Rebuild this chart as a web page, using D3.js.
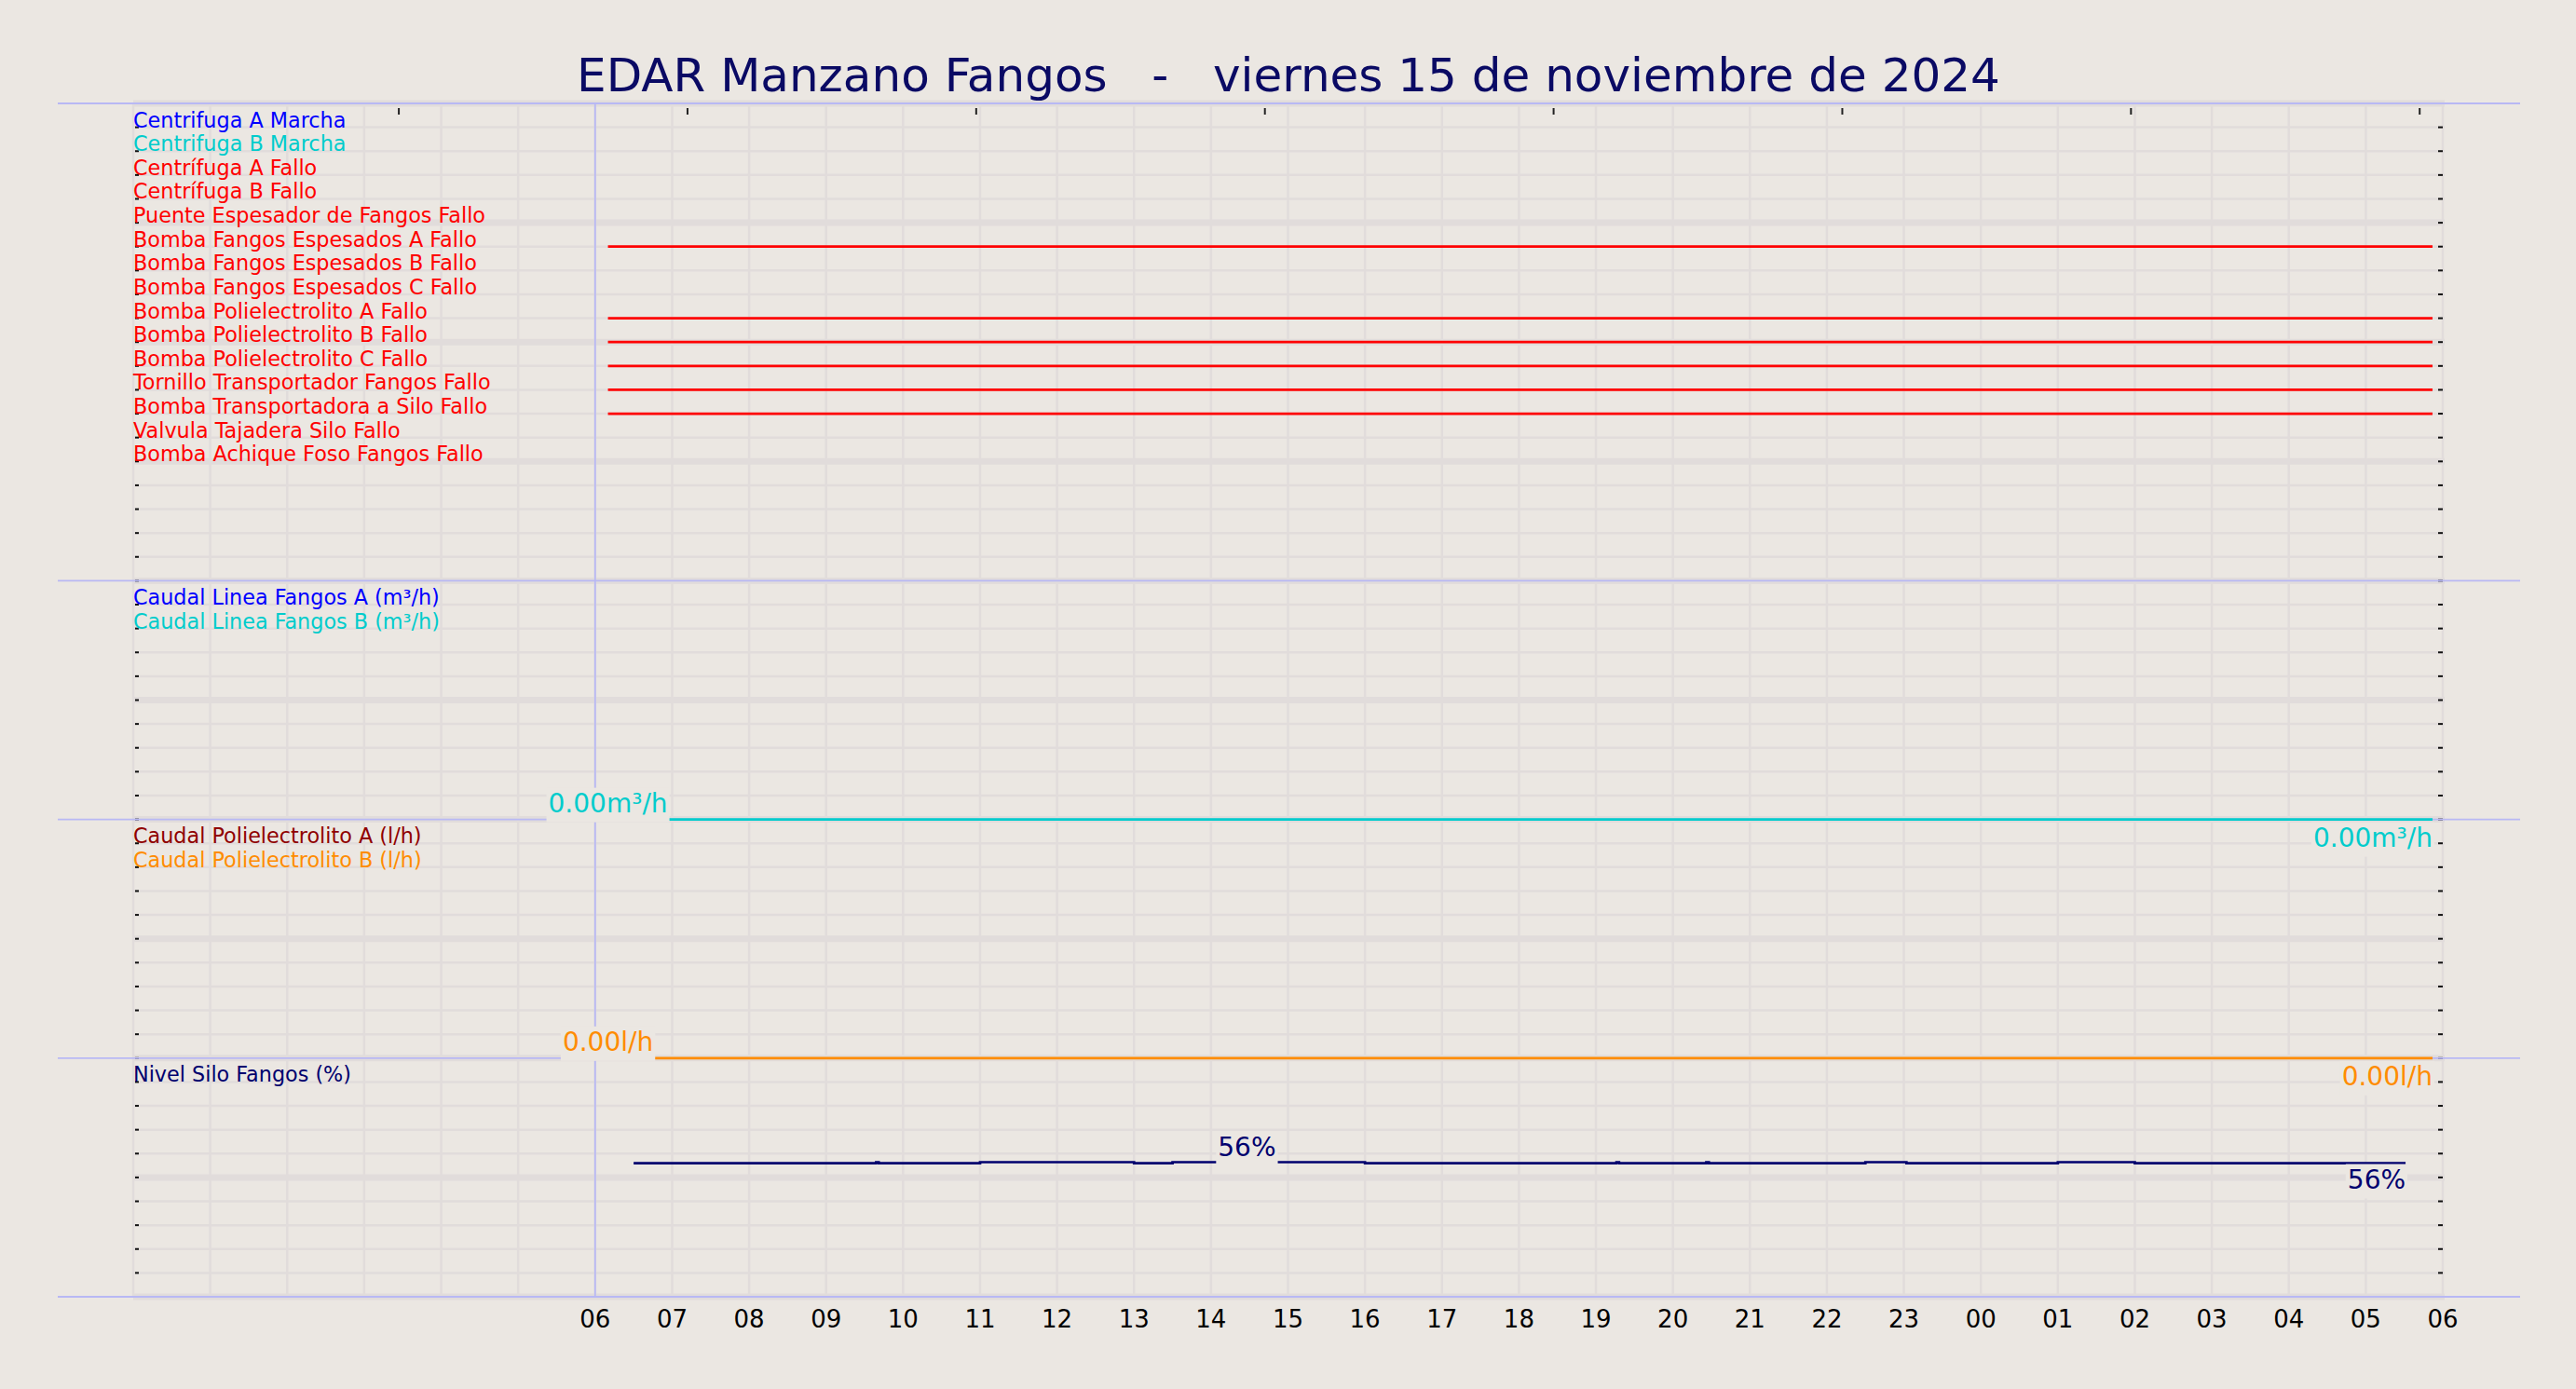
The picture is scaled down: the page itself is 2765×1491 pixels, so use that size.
<!DOCTYPE html>
<html><head><meta charset="utf-8">
<script src="https://cdn.jsdelivr.net/npm/d3@7"></script>
<style>
html,body{margin:0;padding:0;background:#ebe7e2;}
svg{display:block;font-family:"DejaVu Sans",sans-serif;}
</style>
</head><body>
<svg id="chart" width="2765" height="1491"></svg>
<script>
// ---------------- DATA ----------------
const TITLE = "EDAR Manzano Fangos   -   viernes 15 de noviembre de 2024";
const domainStart = "2024-11-15T00:00";
const domainEnd = "2024-11-16T06:00";
const markerTime = "2024-11-15T06:00";

const xTickTimes = ["2024-11-15T06:00","2024-11-15T07:00","2024-11-15T08:00","2024-11-15T09:00","2024-11-15T10:00",
  "2024-11-15T11:00","2024-11-15T12:00","2024-11-15T13:00","2024-11-15T14:00","2024-11-15T15:00","2024-11-15T16:00",
  "2024-11-15T17:00","2024-11-15T18:00","2024-11-15T19:00","2024-11-15T20:00","2024-11-15T21:00","2024-11-15T22:00",
  "2024-11-15T23:00","2024-11-16T00:00","2024-11-16T01:00","2024-11-16T02:00","2024-11-16T03:00","2024-11-16T04:00",
  "2024-11-16T05:00","2024-11-16T06:00"];
const xTickLabels = ["06","07","08","09","10","11","12","13","14","15","16","17","18","19","20","21","22","23","00","01","02","03","04","05","06"];
const topTickTimes = ["2024-11-15T03:27","2024-11-15T07:12","2024-11-15T10:57","2024-11-15T14:42",
  "2024-11-15T18:27","2024-11-15T22:12","2024-11-16T01:57","2024-11-16T05:42"];

const digitalNames = ["Centrifuga A Marcha","Centrifuga B Marcha","Centrífuga A Fallo","Centrífuga B Fallo",
  "Puente Espesador de Fangos Fallo","Bomba Fangos Espesados A Fallo","Bomba Fangos Espesados B Fallo",
  "Bomba Fangos Espesados C Fallo","Bomba Polielectrolito A Fallo","Bomba Polielectrolito B Fallo",
  "Bomba Polielectrolito C Fallo","Tornillo Transportador Fangos Fallo","Bomba Transportadora a Silo Fallo",
  "Valvula Tajadera Silo Fallo","Bomba Achique Foso Fangos Fallo"];
const digitalColors = ["#0000ff","#00cccc","#ff0000","#ff0000","#ff0000","#ff0000","#ff0000","#ff0000",
  "#ff0000","#ff0000","#ff0000","#ff0000","#ff0000","#ff0000","#ff0000"];
const faultOff = [["2024-11-15T06:10",0],["2024-11-16T05:52",0]];
const digitalData = [null,null,null,null,null,faultOff,null,null,faultOff,faultOff,faultOff,faultOff,faultOff,null,null];

const flowNames = ["Caudal Linea Fangos A (m³/h)","Caudal Linea Fangos B (m³/h)"];
const flowColors = ["#0000ff","#00cccc"];
const flowData = [null, [["2024-11-15T06:10",0],["2024-11-16T05:52",0]]];
const flowUnit = "m³/h";

const polyNames = ["Caudal Polielectrolito A (l/h)","Caudal Polielectrolito B (l/h)"];
const polyColors = ["#900000","#ff8c00"];
const polyData = [null, [["2024-11-15T06:10",0],["2024-11-16T05:52",0]]];
const polyUnit = "l/h";

const siloNames = ["Nivel Silo Fangos (%)"];
const siloColors = ["#00006e"];
const siloData = [
  ["2024-11-15T06:30",56.0],["2024-11-15T09:39",56.4],["2024-11-15T09:41",56.0],["2024-11-15T11:00",56.4],
  ["2024-11-15T13:00",56.0],["2024-11-15T13:30",56.4],["2024-11-15T16:00",56.0],["2024-11-15T19:16",56.4],
  ["2024-11-15T19:18",56.0],["2024-11-15T20:26",56.4],["2024-11-15T20:28",56.0],["2024-11-15T22:30",56.4],
  ["2024-11-15T23:02",56.0],["2024-11-16T01:00",56.4],["2024-11-16T02:00",56.0],["2024-11-16T05:31",56.0]];
const siloLabelTime = "2024-11-15T14:28";
const siloUnit = "%";

// ---------------- LAYOUT / STYLE ----------------
const W = 2765, H = 1491;
const PL = 143, PR = 2622, PT = 111, PB = 1392;
const FIG_BG = "#ebe7e2", PLOT_BG = "#ebe7e2", GRID = "#e1dcdb", SEP = "#b8b8f4";
const parse = d3.isoParse;

const svg = d3.select("#chart");
svg.append("rect").attr("width",W).attr("height",H).attr("fill",FIG_BG);

const x = d3.scaleTime().domain([parse(domainStart), parse(domainEnd)]).range([PL, PR]);
const rowY = d3.scaleLinear().domain([0, 50]).range([PT, PB]);

// grid: vertical hours
const hours = d3.timeHour.range(parse(domainStart), d3.timeHour.offset(parse(domainEnd),1));
svg.append("g").selectAll("line").data(hours).join("line")
  .attr("x1", d=>x(d)).attr("x2", d=>x(d)).attr("y1", PT).attr("y2", PB)
  .attr("stroke", GRID).attr("stroke-width", 2.5);
// grid: horizontal rows
const rows = d3.range(0, 51);
svg.append("g").selectAll("line").data(rows).join("line")
  .attr("x1", PL).attr("x2", PR+2).attr("y1", d=>rowY(d)).attr("y2", d=>rowY(d))
  .attr("stroke", GRID).attr("stroke-width", d => d % 5 === 0 ? 7 : 2.5);

// ticks left and right
const innerRows = rows.filter(r => r > 0 && r < 50);
svg.append("g").selectAll("line").data(innerRows).join("line")
  .attr("x1", PR-5).attr("x2", PR).attr("y1", d=>rowY(d)).attr("y2", d=>rowY(d))
  .attr("stroke", "#111").attr("stroke-width", 2);
svg.append("g").selectAll("line").data(innerRows).join("line")
  .attr("x1", PL+2).attr("x2", PL+6).attr("y1", d=>rowY(d)).attr("y2", d=>rowY(d))
  .attr("stroke", "#111").attr("stroke-width", 2);
// top ticks
svg.append("g").selectAll("line").data(topTickTimes).join("line")
  .attr("x1", d=>x(parse(d))).attr("x2", d=>x(parse(d))).attr("y1", PT+5).attr("y2", PT+12)
  .attr("stroke", "#222").attr("stroke-width", 2);

// separators
const seps = [0,20,30,40,50];
svg.append("g").selectAll("line").data(seps).join("line")
  .attr("x1", 62).attr("x2", 2705).attr("y1", d=>rowY(d)).attr("y2", d=>rowY(d))
  .attr("stroke", SEP).attr("stroke-width", 1.8);
svg.append("line").attr("x1", x(parse(markerTime))).attr("x2", x(parse(markerTime)))
  .attr("y1", PT).attr("y2", PB).attr("stroke", SEP).attr("stroke-width", 1.8);

// panel scales
const y1 = d3.scaleLinear().domain([20,0]).range([rowY(0), rowY(20)]);
const y2 = d3.scaleLinear().domain([0,10]).range([rowY(30), rowY(20)]);
const y3 = d3.scaleLinear().domain([0,10]).range([rowY(40), rowY(30)]);
const y4 = d3.scaleLinear().domain([0,100]).range([rowY(50), rowY(40)]);

const gLines = svg.append("g");
const gLabels = svg.append("g");

function drawLine(data, xs, ys, color, offset, curve) {
  const line = d3.line().x(d=>xs(parse(d[0]))).y(d=>ys(d[1] + offset)).curve(curve || d3.curveLinear);
  gLines.append("path").datum(data).attr("d", line).attr("fill","none")
    .attr("stroke", color).attr("stroke-width", 2.7);
}

function valueLabel(px, py, text, color, anchor) {
  const g = gLabels.append("g");
  const r = g.append("rect").attr("fill", PLOT_BG);
  const t = g.append("text").attr("x", px).attr("y", py).attr("text-anchor", anchor)
    .attr("fill", color).style("font-size","28px").text(text);
  const bb = t.node().getBBox();
  r.attr("x", bb.x-2).attr("y", bb.y).attr("width", bb.width+4).attr("height", bb.height+4);
}

function legend(names, colors, panelStartRow) {
  gLabels.append("g").selectAll("text").data(names).join("text")
    .attr("x", PL).attr("y", (d,i)=>rowY(panelStartRow + i + 1))
    .attr("fill", (d,i)=>colors[i]).style("font-size","22.3px").text(d=>d);
}

// panel 1: digital signals
digitalData.forEach((data, i) => {
  if (data) drawLine(data, x, y1, digitalColors[i], 19 - i);
});
legend(digitalNames, digitalColors, 0);

// panels 2 & 3: flows
const fmt2 = d3.format(".2f");
function analogPanel(datas, colors, ys, unit) {
  datas.forEach((data, i) => {
    if (!data) return;
    drawLine(data, x, ys, colors[i], 0);
    const first = data[0], last = data[data.length-1];
    valueLabel(x(parse(first[0])), ys(first[1]) - 8, fmt2(first[1]) + unit, colors[i], "middle");
    valueLabel(x(parse(last[0])), ys(last[1]) + 29, fmt2(last[1]) + unit, colors[i], "end");
  });
}
analogPanel(flowData, flowColors, y2, flowUnit);
legend(flowNames, flowColors, 20);
analogPanel(polyData, polyColors, y3, polyUnit);
legend(polyNames, polyColors, 30);

// panel 4: silo level
drawLine(siloData, x, y4, siloColors[0], 0, d3.curveStepAfter);
const fmt0 = d3.format(".0f");
const bis = d3.bisector(d => parse(d[0])).right;
const midIdx = Math.max(0, bis(siloData, parse(siloLabelTime)) - 1);
valueLabel(x(parse(siloLabelTime)), y4(siloData[midIdx][1]) - 7, fmt0(siloData[midIdx][1]) + siloUnit, siloColors[0], "middle");
const sl = siloData[siloData.length-1];
valueLabel(x(parse(sl[0])), y4(sl[1]) + 27, fmt0(sl[1]) + siloUnit, siloColors[0], "end");
legend(siloNames, siloColors, 40);

// x axis labels
svg.append("g").selectAll("text").data(xTickTimes).join("text")
  .attr("x", d=>x(parse(d))).attr("y", 1425).attr("text-anchor","middle")
  .attr("fill","#000").style("font-size","26px").text((d,i)=>xTickLabels[i]);

// title
svg.append("text").attr("x", 1383).attr("y", 98).attr("text-anchor","middle")
  .attr("fill","#0a0a64").style("font-size","50px").style("white-space","pre")
  .attr("xml:space","preserve").text(TITLE);
</script>
</body></html>
